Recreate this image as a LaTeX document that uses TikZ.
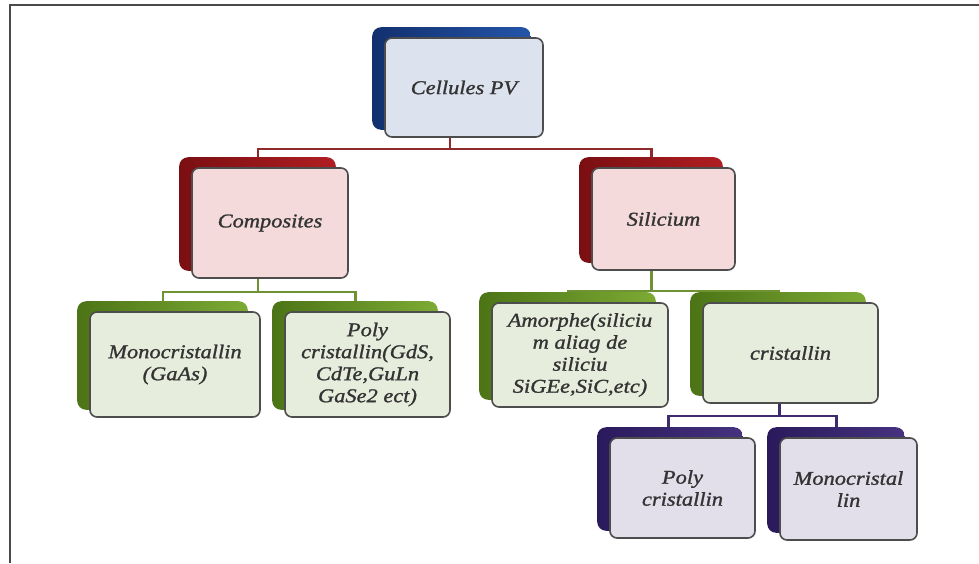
\documentclass[tikz,border=0pt]{standalone}
\usepackage{fontspec}
\setmainfont{Liberation Serif}[FakeStretch=1.15, FakeBold=1.2]
\usetikzlibrary{backgrounds,calc}
\definecolor{framegray}{HTML}{4A4A4A}
\definecolor{frontgray}{HTML}{4D4D4D}
\definecolor{textgray}{HTML}{333333}
\definecolor{bluedark}{HTML}{12306E}
\definecolor{bluebase}{HTML}{2455A8}
\definecolor{bluefill}{HTML}{DDE3EE}
\definecolor{reddark}{HTML}{7A0F12}
\definecolor{redbase}{HTML}{B01E22}
\definecolor{redfill}{HTML}{F4DADB}
\definecolor{redline}{HTML}{8E2A2C}
\definecolor{greendark}{HTML}{4C7416}
\definecolor{greenbase}{HTML}{7DAA34}
\definecolor{greenfill}{HTML}{E7EDDC}
\definecolor{greenline}{HTML}{6F9234}
\definecolor{purpledark}{HTML}{2A1A5C}
\definecolor{purplebase}{HTML}{46327F}
\definecolor{purplefill}{HTML}{E2DEEA}
\definecolor{purpleline}{HTML}{3D2B6B}
\newcommand\pvback[3]{\shade[left color=#2, right color=#3, rounded corners=9pt]
  ($(#1.north west)+(-12,-10)$) rectangle ($(#1.south east)+(-13,-8)$);}
\begin{document}
\begin{tikzpicture}[x=1pt,y=-1pt,
  front/.style={draw=frontgray, line width=1.6pt, rounded corners=7pt, align=center,
    font=\fontsize{19.5}{22}\selectfont\itshape, text=textgray, inner sep=2pt},
  conn/.style={line width=2.6pt}]
\useasboundingbox (0,0) rectangle (979,563);
\draw[framegray, line width=2pt] (10,563) -- (10,5) -- (979,5);

\node[front, fill=bluefill, minimum width=158, minimum height=99] (cell) at (464,87.5) {Cellules PV};
\node[front, fill=redfill, minimum width=156, minimum height=110] (comp) at (270,223) {Composites};
\node[front, fill=redfill, minimum width=143, minimum height=102] (sil) at (663.5,219) {Silicium};
\node[front, fill=greenfill, minimum width=170, minimum height=105] (mono) at (175,364.5) {Monocristallin\\(GaAs)};
\node[front, fill=greenfill, minimum width=165, minimum height=105] (polyg) at (367.5,364.5) {Poly\\cristallin(GdS,\\CdTe,GuLn\\GaSe2 ect)};
\node[front, fill=greenfill, minimum width=176, minimum height=104] (amor) at (580,355) {Amorphe(siliciu\\m aliag de\\siliciu\\SiGEe,SiC,etc)};
\node[front, fill=greenfill, minimum width=175, minimum height=100] (crist) at (790.5,353) {cristallin};
\node[front, fill=purplefill, minimum width=145, minimum height=100] (pcrist) at (682.5,488) {Poly\\cristallin};
\node[front, fill=purplefill, minimum width=137, minimum height=102] (mcrist) at (848.5,489) {Monocristal\\lin};

\begin{pgfonlayer}{background}
  \draw[conn, redline] ([xshift=-14pt]cell.south) -- ++(0,11) -| ([xshift=-12pt]comp.north);
  \draw[conn, redline] ([xshift=-14pt]cell.south) -- ++(0,11) -| ([xshift=-12pt]sil.north);
  \draw[conn, greenline] ([xshift=-12pt]comp.south) -- ++(0,13) -| ([xshift=-12pt]mono.north);
  \draw[conn, greenline] ([xshift=-12pt]comp.south) -- ++(0,13) -| ([xshift=-12pt]polyg.north);
  \draw[conn, greenline] ([xshift=-12pt]sil.south) -- ++(0,20) -| ([xshift=-12pt]amor.north);
  \draw[conn, greenline] ([xshift=-12pt]sil.south) -- ++(0,20) -| ([xshift=-12pt]crist.north);
  \draw[conn, purpleline] ([xshift=-11pt]crist.south) -- ++(0,12) -| ([xshift=-14pt]pcrist.north);
  \draw[conn, purpleline] ([xshift=-11pt]crist.south) -- ++(0,12) -| ([xshift=-12pt]mcrist.north);
  \pvback{cell}{bluedark}{bluebase}
  \pvback{comp}{reddark}{redbase}
  \pvback{sil}{reddark}{redbase}
  \pvback{mono}{greendark}{greenbase}
  \pvback{polyg}{greendark}{greenbase}
  \pvback{amor}{greendark}{greenbase}
  \pvback{crist}{greendark}{greenbase}
  \pvback{pcrist}{purpledark}{purplebase}
  \pvback{mcrist}{purpledark}{purplebase}
\end{pgfonlayer}
\end{tikzpicture}
\end{document}
